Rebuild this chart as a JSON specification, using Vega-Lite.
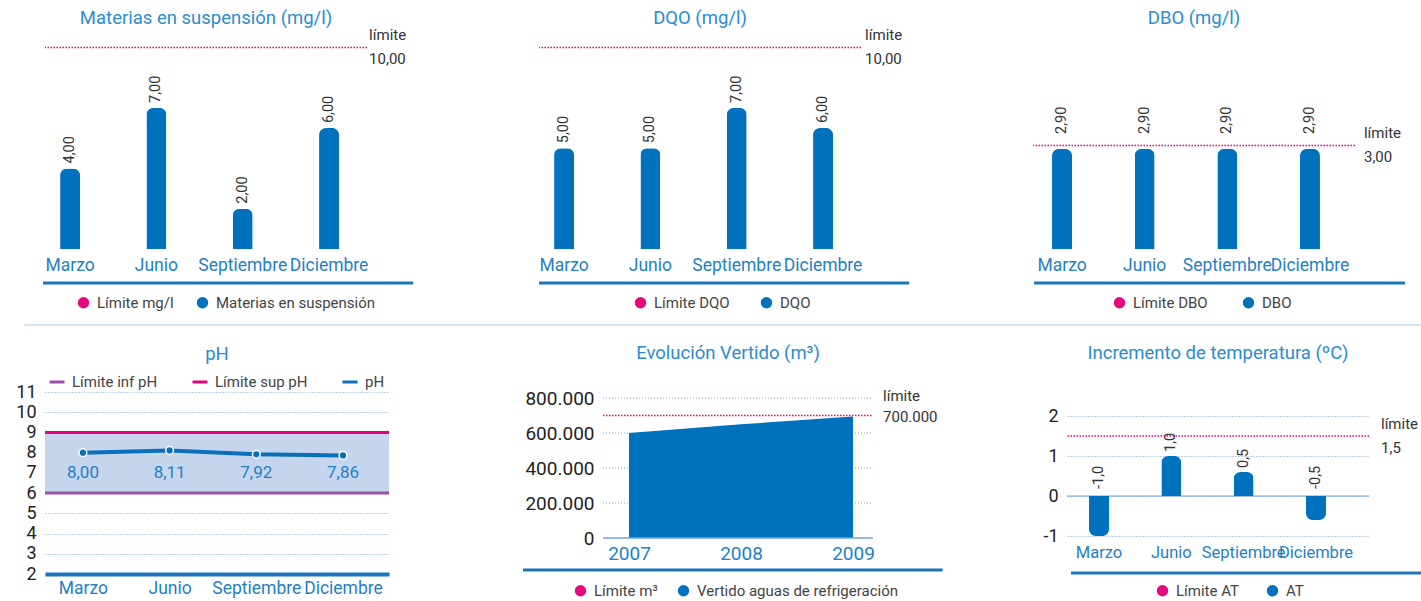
{
  "$schema": "https://vega.github.io/schema/vega-lite/v6.json",
  "background": "white",
  "padding": {"left": 15, "top": 8, "right": 0, "bottom": 0},
  "config": {
    "locale": {"number": {"decimal": ",", "thousands": ".", "grouping": [3], "currency": ["", " €"], "minus": "-"}},
    "font": "Roboto",
    "view": {"stroke": null},
    "title": {"color": "#2b8bd0", "fontSize": 18.5, "fontWeight": "normal", "font": "Roboto", "frame": "group", "anchor": "middle"},
    "axis": {"ticks": false, "domain": false, "grid": false, "title": null, "labelFont": "Roboto", "labelOverlap": false, "labelSeparation": -50, "labelFlush": false},
    "legend": {"labelFont": "Roboto", "labelFontSize": 15, "labelColor": "#444", "symbolSize": 130, "labelOffset": 6, "symbolOpacity": 1, "labelLimit": 400}
  },
  "spacing": 357,
  "bounds": "flush",
  "resolve": {"scale": {"color": "independent"}, "legend": {"color": "independent"}},
  "vconcat": [
    {
      "spacing": 172,
      "bounds": "flush",
      "resolve": {"scale": {"color": "independent"}, "legend": {"color": "independent"}},
      "hconcat": [
        {
          "width": 322, "height": 214,
          "title": {"text": "Materias en suspensión (mg/l)", "offset": 1},
          "data": {"values": [
            {"mes": "Marzo", "valor": 4}, {"mes": "Junio", "valor": 7}, {"mes": "Septiembre", "valor": 2}, {"mes": "Diciembre", "valor": 6}
          ]},
          "layer": [
            {"mark": {"type": "bar", "width": 20, "cornerRadiusTopLeft": 7, "cornerRadiusTopRight": 7},
             "encoding": {
               "x": {"field": "mes", "type": "nominal", "sort": null, "scale": {"type": "band", "paddingInner": 0.536, "paddingOuter": 0.133, "align": 0.22}, "axis": {"labelColor": "#1f7fc6", "labelFontSize": 17.5, "labelPadding": 7, "labelAngle": 0, "labelOverlap": false}},
               "y": {"field": "valor", "type": "quantitative", "scale": {"domain": [0, 10.62], "nice": false}, "axis": null},
               "color": {"datum": "Materias en suspensión", "scale": {"domain": ["Límite mg/l", "Materias en suspensión"], "range": ["#e5097f", "#0071bc"]}, "legend": {"orient": "none", "legendX": 31, "legendY": 260, "direction": "horizontal", "columnPadding": 21, "title": null, "symbolType": "circle"}}
             }},
            {"mark": {"type": "text", "angle": 270, "align": "left", "baseline": "middle", "dx": 5, "fontSize": 14.5, "color": "#333"},
             "encoding": {"x": {"field": "mes", "type": "nominal", "sort": null}, "y": {"field": "valor", "type": "quantitative"}, "text": {"field": "valor", "type": "quantitative", "format": ".2f"}}},
            {"data": {"values": [{"limite": 10}]}, "mark": {"type": "rule", "color": "#e8007f", "strokeDash": [1.5, 1.5], "strokeWidth": 1.5},
             "encoding": {"y": {"field": "limite", "type": "quantitative"}}},
            {"data": {"values": [{"limite": 10}]}, "mark": {"type": "text", "align": "left", "baseline": "middle", "dy": -12, "dx": 2, "fontSize": 15, "color": "#333", "text": "límite"},
             "encoding": {"x": {"datum": "Diciembre", "bandPosition": 1.45}, "y": {"field": "limite", "type": "quantitative"}}},
            {"data": {"values": [{"limite": 10}]}, "mark": {"type": "text", "align": "left", "baseline": "middle", "dy": 12, "dx": 2, "fontSize": 15, "color": "#333"},
             "encoding": {"x": {"datum": "Diciembre", "bandPosition": 1.45}, "y": {"field": "limite", "type": "quantitative"}, "text": {"field": "limite", "type": "quantitative", "format": ".2f"}}},
            {"data": {"values": [{}]}, "mark": {"type": "rule", "color": "#1b75bc", "strokeWidth": 3},
             "encoding": {"x": {"datum": "Marzo", "bandPosition": -0.175}, "x2": {"datum": "Diciembre", "bandPosition": 2.6}, "y": {"datum": -1.687}}}
          ]
        },
        {
          "width": 322, "height": 214,
          "title": {"text": "DQO (mg/l)", "offset": 1},
          "data": {"values": [
            {"mes": "Marzo", "valor": 5}, {"mes": "Junio", "valor": 5}, {"mes": "Septiembre", "valor": 7}, {"mes": "Diciembre", "valor": 6}
          ]},
          "layer": [
            {"mark": {"type": "bar", "width": 20, "cornerRadiusTopLeft": 7, "cornerRadiusTopRight": 7},
             "encoding": {
               "x": {"field": "mes", "type": "nominal", "sort": null, "scale": {"type": "band", "paddingInner": 0.536, "paddingOuter": 0.133, "align": 0.22}, "axis": {"labelColor": "#1f7fc6", "labelFontSize": 17.5, "labelPadding": 7, "labelAngle": 0, "labelOverlap": false}},
               "y": {"field": "valor", "type": "quantitative", "scale": {"domain": [0, 10.62], "nice": false}, "axis": null},
               "color": {"datum": "DQO", "scale": {"domain": ["Límite DQO", "DQO"], "range": ["#e5097f", "#0071bc"]}, "legend": {"orient": "none", "legendX": 94, "legendY": 260, "direction": "horizontal", "columnPadding": 29, "title": null, "symbolType": "circle"}}
             }},
            {"mark": {"type": "text", "angle": 270, "align": "left", "baseline": "middle", "dx": 5, "fontSize": 14.5, "color": "#333"},
             "encoding": {"x": {"field": "mes", "type": "nominal", "sort": null}, "y": {"field": "valor", "type": "quantitative"}, "text": {"field": "valor", "type": "quantitative", "format": ".2f"}}},
            {"data": {"values": [{"limite": 10}]}, "mark": {"type": "rule", "color": "#e8007f", "strokeDash": [1.5, 1.5], "strokeWidth": 1.5},
             "encoding": {"y": {"field": "limite", "type": "quantitative"}}},
            {"data": {"values": [{"limite": 10}]}, "mark": {"type": "text", "align": "left", "baseline": "middle", "dy": -12, "dx": 2, "fontSize": 15, "color": "#333", "text": "límite"},
             "encoding": {"x": {"datum": "Diciembre", "bandPosition": 1.5}, "y": {"field": "limite", "type": "quantitative"}}},
            {"data": {"values": [{"limite": 10}]}, "mark": {"type": "text", "align": "left", "baseline": "middle", "dy": 12, "dx": 2, "fontSize": 15, "color": "#333"},
             "encoding": {"x": {"datum": "Diciembre", "bandPosition": 1.5}, "y": {"field": "limite", "type": "quantitative"}, "text": {"field": "limite", "type": "quantitative", "format": ".2f"}}},
            {"data": {"values": [{}]}, "mark": {"type": "rule", "color": "#1b75bc", "strokeWidth": 3},
             "encoding": {"x": {"datum": "Marzo", "bandPosition": -0.125}, "x2": {"datum": "Diciembre", "bandPosition": 2.65}, "y": {"datum": -1.687}}},
            {"data": {"values": [{}]}, "mark": {"type": "rule", "color": "#c9dcf0", "strokeWidth": 1.5},
             "encoding": {"x": {"datum": "Marzo", "bandPosition": -12.975}, "x2": {"datum": "Diciembre", "bandPosition": 15.5}, "y": {"datum": -3.77}}}
          ]
        },
        {
          "width": 322, "height": 214,
          "title": {"text": "DBO (mg/l)", "offset": 8},
          "data": {"values": [
            {"mes": "Marzo", "valor": 2.9}, {"mes": "Junio", "valor": 2.9}, {"mes": "Septiembre", "valor": 2.9}, {"mes": "Diciembre", "valor": 2.9}
          ]},
          "layer": [
            {"mark": {"type": "bar", "width": 20, "cornerRadiusTopLeft": 7, "cornerRadiusTopRight": 7},
             "encoding": {
               "x": {"field": "mes", "type": "nominal", "sort": null, "scale": {"type": "band", "paddingInner": 0.516, "paddingOuter": 0.206, "align": 0.265}, "axis": {"labelColor": "#1f7fc6", "labelFontSize": 17.5, "labelPadding": 7, "labelAngle": 0, "labelOverlap": false}},
               "y": {"field": "valor", "type": "quantitative", "scale": {"domain": [0, 6.2], "nice": false}, "axis": null},
               "color": {"datum": "DBO", "scale": {"domain": ["Límite DBO", "DBO"], "range": ["#e5097f", "#0071bc"]}, "legend": {"orient": "none", "legendX": 79, "legendY": 260, "direction": "horizontal", "columnPadding": 33, "title": null, "symbolType": "circle"}}
             }},
            {"mark": {"type": "text", "angle": 270, "align": "left", "baseline": "middle", "dx": 15, "fontSize": 14.5, "color": "#333"},
             "encoding": {"x": {"field": "mes", "type": "nominal", "sort": null}, "y": {"field": "valor", "type": "quantitative"}, "text": {"field": "valor", "type": "quantitative", "format": ".2f"}}},
            {"data": {"values": [{"limite": 3}]}, "mark": {"type": "rule", "color": "#e8007f", "strokeDash": [1.5, 1.5], "strokeWidth": 1.5},
             "encoding": {"y": {"field": "limite", "type": "quantitative"}}},
            {"data": {"values": [{"limite": 3}]}, "mark": {"type": "text", "align": "left", "baseline": "middle", "dy": -12, "dx": 2, "fontSize": 15, "color": "#333", "text": "límite"},
             "encoding": {"x": {"datum": "Diciembre", "bandPosition": 1.8}, "y": {"field": "limite", "type": "quantitative"}}},
            {"data": {"values": [{"limite": 3}]}, "mark": {"type": "text", "align": "left", "baseline": "middle", "dy": 12, "dx": 2, "fontSize": 15, "color": "#333"},
             "encoding": {"x": {"datum": "Diciembre", "bandPosition": 1.8}, "y": {"field": "limite", "type": "quantitative"}, "text": {"field": "limite", "type": "quantitative", "format": ".2f"}}},
            {"data": {"values": [{}]}, "mark": {"type": "rule", "color": "#1b75bc", "strokeWidth": 3},
             "encoding": {"x": {"datum": "Marzo", "bandPosition": -0.2}, "x2": {"datum": "Diciembre", "bandPosition": 2.875}, "y": {"datum": -0.986}}}
          ]
        }
      ]
    },
    {
      "spacing": 214,
      "bounds": "flush",
      "resolve": {"scale": {"color": "independent"}, "legend": {"color": "independent"}},
      "hconcat": [
        {
          "width": 344, "height": 182,
          "title": {"text": "pH", "offset": 10},
          "data": {"values": [
            {"mes": "Marzo", "ph": 8.00}, {"mes": "Junio", "ph": 8.11}, {"mes": "Septiembre", "ph": 7.92}, {"mes": "Diciembre", "ph": 7.86}
          ]},
          "layer": [
            {"data": {"values": [{}]}, "mark": {"type": "rect", "color": "#c6d5ee"},
             "encoding": {"y": {"datum": 6, "type": "quantitative", "scale": {"domain": [2, 11], "nice": false, "zero": false}, "axis": {"values": [2, 3, 4, 5, 6, 7, 8, 9, 10, 11], "tickCount": 10, "labelOverlap": false, "labelSeparation": -50, "labelFontSize": 18, "labelColor": "#222", "labelPadding": 9, "grid": true, "gridDash": [1, 2], "gridColor": "#7ea6da", "gridWidth": 1}}, "y2": {"datum": 9}}},
            {"data": {"values": [{}]}, "mark": {"type": "rule", "strokeWidth": 3},
             "encoding": {"y": {"datum": 9, "type": "quantitative"}, "color": {"datum": "Límite sup pH"}}},
            {"data": {"values": [{}]}, "mark": {"type": "rule", "strokeWidth": 3},
             "encoding": {"y": {"datum": 6, "type": "quantitative"}, "color": {"datum": "Límite inf pH"}}},
            {"mark": {"type": "line", "strokeWidth": 4},
             "encoding": {
               "x": {"field": "mes", "type": "nominal", "sort": null, "scale": {"type": "point", "padding": 0.484, "align": 0.452}, "axis": {"labelColor": "#1f7fc6", "labelFontSize": 17.5, "labelPadding": 5, "labelAngle": 0, "labelOverlap": false, "domain": true, "domainColor": "#1b75bc", "domainWidth": 4}},
               "y": {"field": "ph", "type": "quantitative", "scale": {"domain": [2, 11], "nice": false, "zero": false}, "axis": {"values": [2, 3, 4, 5, 6, 7, 8, 9, 10, 11], "tickCount": 10, "labelOverlap": false, "labelSeparation": -50, "labelFontSize": 18, "labelColor": "#222", "labelPadding": 9, "grid": true, "gridDash": [1, 2], "gridColor": "#7ea6da", "gridWidth": 1}},
               "color": {"datum": "pH", "scale": {"domain": ["Límite inf pH", "Límite sup pH", "pH"], "range": ["#9c4fa6", "#e6007e", "#0a6fb8"]}, "legend": {"orient": "none", "legendX": 3, "legendY": -19, "direction": "horizontal", "columnPadding": 28, "title": null, "symbolType": "stroke", "symbolStrokeWidth": 3, "symbolSize": 225}}
             }},
            {"mark": {"type": "point", "shape": "circle", "filled": true, "size": 60, "color": "#0a6fb8", "stroke": "white", "strokeWidth": 1.5, "opacity": 1},
             "encoding": {"x": {"field": "mes", "type": "nominal", "sort": null}, "y": {"field": "ph", "type": "quantitative"}}},
            {"mark": {"type": "text", "fontSize": 17, "color": "#1f7fc6", "baseline": "middle"},
             "encoding": {"x": {"field": "mes", "type": "nominal", "sort": null}, "y": {"datum": 7, "type": "quantitative"}, "text": {"field": "ph", "type": "quantitative", "format": ".2f"}}}
          ]
        },
        {
          "width": 250, "height": 146,
          "title": {"text": "Evolución Vertido (m³)", "offset": 26},
          "layer": [
            {"data": {"values": [{"g": 200000}, {"g": 400000}, {"g": 600000}, {"g": 800000}]},
             "mark": {"type": "rule", "color": "#7ea6da", "strokeDash": [1, 2], "strokeWidth": 1},
             "encoding": {
               "y": {"field": "g", "type": "quantitative", "scale": {"domain": [0, 834286], "nice": false}, "axis": {"values": [0, 200000, 400000, 600000, 800000], "tickCount": 5, "format": ",.0f", "labelOverlap": false, "labelSeparation": -50, "labelFontSize": 19, "labelColor": "#222", "labelPadding": 9}},
               "x": {"datum": 2006.768, "type": "quantitative", "scale": {"domain": [2006.768, 2009.0], "nice": false, "zero": false}, "axis": {"values": [2007, 2008, 2009], "format": "d", "labelFlush": false, "labelOverlap": false, "labelColor": "#1f7fc6", "labelFontSize": 19, "labelPadding": 6}},
               "x2": {"datum": 2009.179}}},
            {"data": {"values": [{"anio": 2007, "m3": 600000}, {"anio": 2008, "m3": 650000}, {"anio": 2009, "m3": 695000}]},
             "mark": {"type": "area", "opacity": 1},
             "encoding": {
               "x": {"field": "anio", "type": "quantitative", "scale": {"domain": [2006.768, 2009.0], "nice": false, "zero": false}, "axis": {"values": [2007, 2008, 2009], "format": "d", "labelFlush": false, "labelOverlap": false, "labelColor": "#1f7fc6", "labelFontSize": 19, "labelPadding": 6}},
               "y": {"field": "m3", "type": "quantitative", "scale": {"domain": [0, 834286], "nice": false}, "axis": {"values": [0, 200000, 400000, 600000, 800000], "tickCount": 5, "format": ",.0f", "labelOverlap": false, "labelSeparation": -50, "labelFontSize": 19, "labelColor": "#222", "labelPadding": 9}},
               "color": {"datum": "Vertido aguas de refrigeración", "scale": {"domain": ["Límite m³", "Vertido aguas de refrigeración"], "range": ["#e5097f", "#0071bc"]}, "legend": {"orient": "none", "legendX": -30, "legendY": 191, "direction": "horizontal", "columnPadding": 18, "title": null, "symbolType": "circle"}}
             }},
            {"data": {"values": [{}]}, "mark": {"type": "rule", "color": "#6fa3dc", "strokeWidth": 1.5},
             "encoding": {"y": {"datum": 0, "type": "quantitative"}, "x": {"datum": 2006.768, "type": "quantitative"}, "x2": {"datum": 2009.179}}},
            {"data": {"values": [{"limite": 700000}]}, "mark": {"type": "rule", "color": "#e8007f", "strokeDash": [1.5, 1.5], "strokeWidth": 1.5},
             "encoding": {"y": {"field": "limite", "type": "quantitative"}, "x": {"datum": 2006.768, "type": "quantitative"}, "x2": {"datum": 2009.179}}},
            {"data": {"values": [{"limite": 700000}]}, "mark": {"type": "text", "align": "left", "baseline": "middle", "dy": -20, "fontSize": 15, "color": "#333", "text": "límite"},
             "encoding": {"x": {"datum": 2009.268, "type": "quantitative"}, "y": {"field": "limite", "type": "quantitative"}}},
            {"data": {"values": [{"limite": 700000}]}, "mark": {"type": "text", "align": "left", "baseline": "middle", "dy": 1, "fontSize": 15, "color": "#333"},
             "encoding": {"x": {"datum": 2009.268, "type": "quantitative"}, "y": {"field": "limite", "type": "quantitative"}, "text": {"field": "limite", "type": "quantitative", "format": ",.0f"}}},
            {"data": {"values": [{}]}, "mark": {"type": "rule", "color": "#1b75bc", "strokeWidth": 3},
             "encoding": {"y": {"datum": -182857, "type": "quantitative"}, "x": {"datum": 2006.054, "type": "quantitative"}, "x2": {"datum": 2009.8}}}
          ]
        },
        {
          "width": 302, "height": 144,
          "title": {"text": "Incremento de temperatura (ºC)", "offset": 30},
          "data": {"values": [
            {"mes": "Marzo", "valor": -1.0, "etiqueta": "-1,0"}, {"mes": "Junio", "valor": 1.0, "etiqueta": "1,0"}, {"mes": "Septiembre", "valor": 0.6, "etiqueta": "0,5"}, {"mes": "Diciembre", "valor": -0.6, "etiqueta": "-0,5"}
          ]},
          "layer": [
            {"data": {"values": [{}]}, "mark": {"type": "rule", "color": "#6fa3dc", "strokeWidth": 1.2},
             "encoding": {"y": {"datum": 0, "type": "quantitative", "scale": {"domain": [-1, 2.6], "nice": false}, "axis": {"values": [-1, 0, 1, 2], "labelOverlap": false, "labelFontSize": 18, "labelColor": "#222", "labelPadding": 9, "grid": true, "gridDash": [1, 2], "gridColor": "#7ea6da", "gridWidth": 1}}}},
            {"transform": [{"filter": "datum.valor >= 0"}],
             "mark": {"type": "bar", "width": 20, "cornerRadiusTopLeft": 7, "cornerRadiusTopRight": 7},
             "encoding": {
               "x": {"field": "mes", "type": "nominal", "sort": ["Marzo", "Junio", "Septiembre", "Diciembre"], "scale": {"type": "band", "domain": ["Marzo", "Junio", "Septiembre", "Diciembre"], "paddingInner": 0.502, "paddingOuter": 0.339, "align": 0.286}, "axis": {"labelColor": "#1f7fc6", "labelFontSize": 16.5, "labelPadding": 8, "labelAngle": 0, "labelOverlap": false}},
               "y": {"field": "valor", "type": "quantitative", "scale": {"domain": [-1, 2.6], "nice": false}, "axis": {"values": [-1, 0, 1, 2], "labelOverlap": false, "labelFontSize": 18, "labelColor": "#222", "labelPadding": 9, "grid": true, "gridDash": [1, 2], "gridColor": "#7ea6da", "gridWidth": 1}},
               "color": {"datum": "AT", "scale": {"domain": ["Límite AT", "AT"], "range": ["#e5097f", "#0071bc"]}, "legend": {"orient": "none", "legendX": 88, "legendY": 191, "direction": "horizontal", "columnPadding": 26, "title": null, "symbolType": "circle"}}
             }},
            {"transform": [{"filter": "datum.valor < 0"}],
             "mark": {"type": "bar", "width": 20, "cornerRadiusBottomLeft": 7, "cornerRadiusBottomRight": 7, "color": "#0071bc"},
             "encoding": {"x": {"field": "mes", "type": "nominal", "sort": ["Marzo", "Junio", "Septiembre", "Diciembre"]}, "y": {"field": "valor", "type": "quantitative"}}},
            {"transform": [{"filter": "datum.valor >= 0"}],
             "mark": {"type": "text", "angle": 270, "align": "left", "baseline": "middle", "dx": 4, "fontSize": 14.5, "color": "#333"},
             "encoding": {"x": {"field": "mes", "type": "nominal", "sort": ["Marzo", "Junio", "Septiembre", "Diciembre"]}, "y": {"field": "valor", "type": "quantitative"}, "text": {"field": "etiqueta"}}},
            {"transform": [{"filter": "datum.valor < 0"}],
             "mark": {"type": "text", "angle": 270, "align": "left", "baseline": "middle", "dx": 7, "fontSize": 14.5, "color": "#333"},
             "encoding": {"x": {"field": "mes", "type": "nominal", "sort": ["Marzo", "Junio", "Septiembre", "Diciembre"]}, "y": {"datum": 0, "type": "quantitative"}, "text": {"field": "etiqueta"}}},
            {"data": {"values": [{"limite": 1.5}]}, "mark": {"type": "rule", "color": "#e8007f", "strokeDash": [1.5, 1.5], "strokeWidth": 1.5},
             "encoding": {"y": {"field": "limite", "type": "quantitative"}}},
            {"data": {"values": [{"limite": 1.5}]}, "mark": {"type": "text", "align": "left", "baseline": "middle", "dy": -12, "dx": 2, "fontSize": 15, "color": "#333", "text": "límite"},
             "encoding": {"x": {"datum": "Diciembre", "bandPosition": 2.25}, "y": {"field": "limite", "type": "quantitative"}}},
            {"data": {"values": [{"limite": 1.5}]}, "mark": {"type": "text", "align": "left", "baseline": "middle", "dy": 12, "dx": 2, "fontSize": 15, "color": "#333"},
             "encoding": {"x": {"datum": "Diciembre", "bandPosition": 2.25}, "y": {"field": "limite", "type": "quantitative"}, "text": {"field": "limite", "type": "quantitative", "format": ".1f"}}},
            {"data": {"values": [{}]}, "mark": {"type": "rule", "color": "#1b75bc", "strokeWidth": 3},
             "encoding": {"x": {"datum": "Marzo", "bandPosition": -0.28}, "x2": {"datum": "Diciembre", "bandPosition": 3.47}, "y": {"datum": -1.925}}}
          ]
        }
      ]
    }
  ]
}
